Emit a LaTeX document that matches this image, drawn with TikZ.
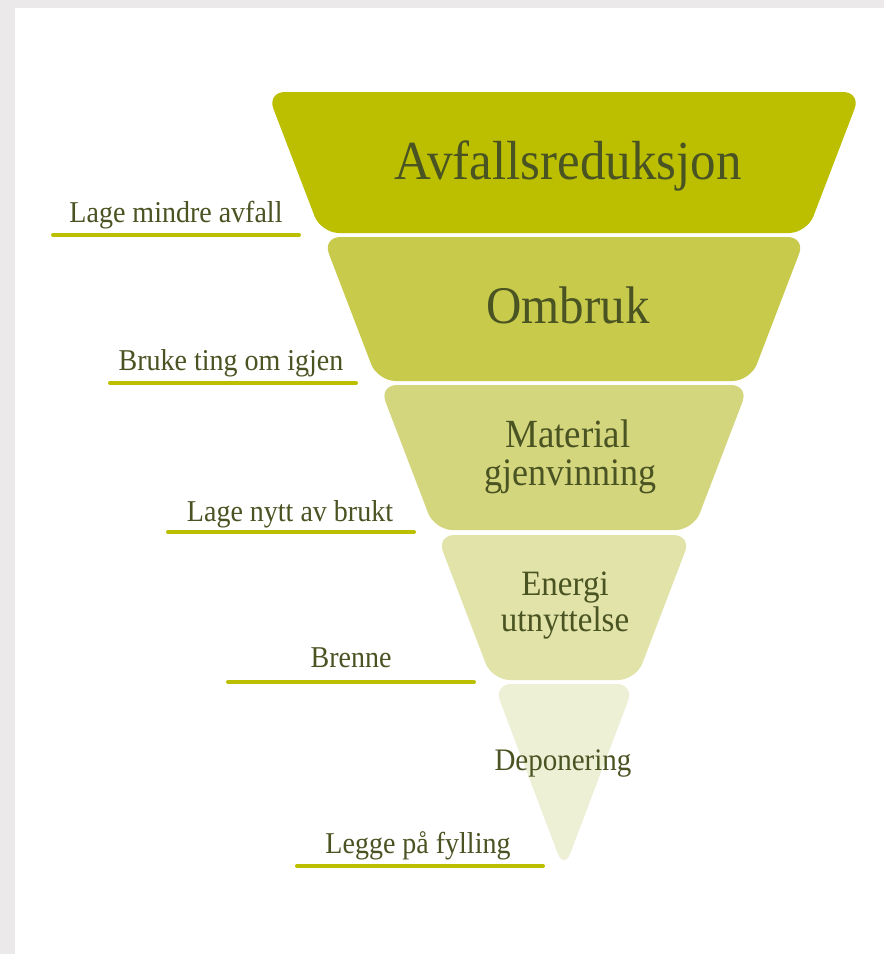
\documentclass[tikz,border=0pt]{standalone}
\usepackage{fontspec}
\setmainfont{Liberation Serif}
\definecolor{bordergray}{HTML}{EBE9EA}
\definecolor{lvA}{HTML}{BBBF00}
\definecolor{lvB}{HTML}{C8CA4C}
\definecolor{lvC}{HTML}{D4D67E}
\definecolor{lvD}{HTML}{E1E3A9}
\definecolor{lvE}{HTML}{EEF0D6}
\definecolor{txt}{HTML}{4A5322}
\newcommand{\vsc}[1]{\scalebox{1}[1.08]{#1}}
\tikzset{
  lvl/.style={rounded corners=18pt, draw=none},
  big/.style={text=txt, align=center, font=\fontsize{#1}{#1}\selectfont, inner sep=0pt, anchor=base},
  lbl/.style={text=txt, font=\fontsize{28}{28}\selectfont, inner sep=0pt, anchor=base},
  uline/.style={draw=lvA, line width=4pt, line cap=round}
}
\begin{document}
\begin{tikzpicture}[x=1pt,y=-1pt]
\fill[bordergray] (0,0) rectangle (884,954);
\fill[white] (15,8) rectangle (884,954);
\useasboundingbox (0,0) rectangle (884,954);
% levels
\fill[lvA,lvl] (267,92) -- (861,92) -- (807,233) -- (321,233) -- cycle;
\fill[lvB,lvl] (322.5,237) -- (805.5,237) -- (750.4,381) -- (377.6,381) -- cycle;
\fill[lvC,lvl] (379.1,385) -- (748.9,385) -- (693.4,530) -- (434.6,530) -- cycle;
\fill[lvD,lvl] (436.6,535) -- (691.4,535) -- (636,680) -- (492,680) -- cycle;
\fill[lvE,lvl] (493.6,684) -- (634.4,684) -- (564,870) -- cycle;
% level texts
\node[big=51] (t1) at (568,179) {\vsc{Avfallsreduksjon}};
\node[big=49] (t2) at (568,323) {\vsc{Ombruk}};
\node[big=37] (t3a) at (568,447) {\vsc{Material}};
\node[big=36] (t3b) at (570,485) {\vsc{gjenvinning}};
\node[big=33] (t4a) at (565,595) {\vsc{Energi}};
\node[big=33] (t4b) at (565,631) {\vsc{utnyttelse}};
\node[big=29] (t5) at (563,770) {\vsc{Deponering}};
% labels
\node[lbl] (l1) at (176,222) {\vsc{Lage mindre avfall}};
\node[lbl] (l2) at (231,370) {\vsc{Bruke ting om igjen}};
\node[lbl] (l3) at (290,521) {\vsc{Lage nytt av brukt}};
\node[lbl] (l4) at (351,667) {\vsc{Brenne}};
\node[lbl] (l5) at (418,853) {\vsc{Legge på fylling}};
\coordinate (u1a) at (53,235); \coordinate (u1b) at (299,235);
\coordinate (u2a) at (110,383); \coordinate (u2b) at (356,383);
\coordinate (u3a) at (168,532); \coordinate (u3b) at (414,532);
\coordinate (u4a) at (228,682); \coordinate (u4b) at (474,682);
\coordinate (u5a) at (297,866); \coordinate (u5b) at (543,866);
\draw[uline] (u1a) -- (u1b);
\draw[uline] (u2a) -- (u2b);
\draw[uline] (u3a) -- (u3b);
\draw[uline] (u4a) -- (u4b);
\draw[uline] (u5a) -- (u5b);
\end{tikzpicture}
\end{document}
